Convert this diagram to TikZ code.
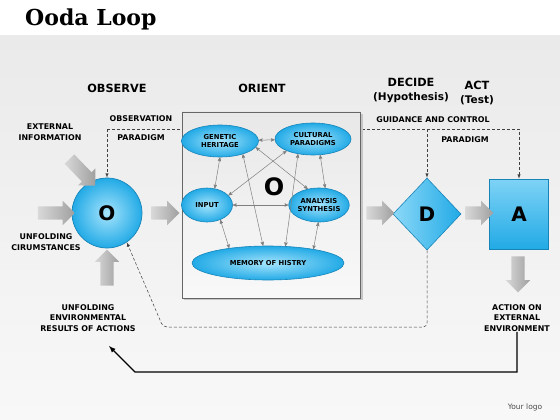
\documentclass[tikz,border=0pt]{standalone}
\usepackage{fontspec}
\setmainfont{DejaVu Sans}
\newfontfamily\titlefont{DejaVu Serif}
\usepackage{tikz}
\usetikzlibrary{arrows, shapes.geometric, shapes.arrows}
\definecolor{skyd}{HTML}{1784B8}
\definecolor{skyo}{HTML}{22AAE6}
\definecolor{skyi}{HTML}{A6E4FC}
\definecolor{bgtop}{HTML}{EAEAEA}
\definecolor{bgbot}{HTML}{F8F8F8}
\begin{document}
\begin{tikzpicture}[x=1pt, y=-1pt,
  lbl/.style={font=\bfseries\fontsize{7.9}{10.6}\selectfont, align=center, inner sep=0pt},
  head/.style={font=\bfseries\fontsize{11.3}{14}\selectfont, align=center, inner sep=0pt},
  bubble/.style={ellipse, draw=skyd, line width=0.6pt, inner color=skyi, outer color=skyo, inner sep=0pt, font=\bfseries\fontsize{6.8}{8.2}\selectfont, align=center},
  blk/.style={single arrow, draw=none, left color=gray!30, right color=gray!75, inner sep=0pt, text height=6.5pt, text depth=6.5pt, text width=0pt, single arrow head extend=5.5pt, single arrow tip angle=90},
  dsh/.style={densely dashed, line width=0.5pt, black!75, -latex},
  dbl/.style={gray, line width=0.5pt, <->, >=stealth'},
  big/.style={font=\bfseries\fontsize{20}{20}\selectfont, inner sep=0pt}]
\fill[white] (0,0) rectangle (560,36);
\shade[top color=bgtop, bottom color=bgbot] (0,36) rectangle (560,420);
\useasboundingbox (0,0) rectangle (560,420);

\node[font=\titlefont\bfseries\fontsize{22}{22}\selectfont, anchor=west, inner sep=0pt] (title) at (25,19) {Ooda Loop};

\node[circle, draw=skyd, line width=0.7pt, inner color=skyi, outer color=skyo, minimum size=70pt, big] (o) at (107,213) {O};
\node[diamond, draw=skyd, line width=0.6pt, left color=skyi!80!skyo, right color=skyo, minimum width=68pt, minimum height=72pt, inner sep=0pt, big] (d) at (427,214) {D};
\node[rectangle, draw=skyd, line width=0.6pt, top color=skyi!70!skyo, bottom color=skyo, minimum width=59pt, minimum height=70pt, big] (a) at (519,214) {A};

\coordinate (gt) at (107,129);
\coordinate (bl) at (163,327);
\draw[dsh] (gt) -- (o.north);
\draw[dsh] (gt) -| (a.north);
\draw[dsh] (d.north |- gt) -- (d.north);
\draw[dsh, rounded corners=4pt] (d.south) |- (bl) -- (o.-56);

\fill[gray!45] (184,114) rectangle (363,300);
\node[rectangle, draw=gray!80!black, line width=0.7pt, top color=gray!18, bottom color=gray!5, minimum width=178pt, minimum height=186pt] (box) at (271,205) {};

\node[bubble, minimum width=77pt, minimum height=32pt] (gh) at (220,141) {GENETIC\\HERITAGE};
\node[bubble, minimum width=76pt, minimum height=32pt] (cp) at (313,139) {CULTURAL\\PARADIGMS};
\node[bubble, minimum width=51pt, minimum height=34pt] (ip) at (207,205) {INPUT};
\node[bubble, minimum width=58pt, minimum height=34pt] (as) at (319,205) {ANALYSIS\\SYNTHESIS};
\node[bubble, minimum width=152pt, minimum height=34pt] (mh) at (268,263) {MEMORY OF HISTRY};
\node[big, font=\bfseries\fontsize{24}{24}\selectfont] (co) at (274,187) {O};

\draw[dbl] (gh) -- (cp);
\draw[dbl] (ip) -- (as);
\draw[dbl] (gh.270) -- (ip.65);
\draw[dbl] (cp.204) -- (ip.24);
\draw[dbl] (gh.350) -- (as.125);
\draw[dbl] (cp.294) -- (as.70);
\draw[dbl] (ip.312) -- (mh.159);
\draw[dbl] (gh.330) -- (mh.106);
\draw[dbl] (cp.225) -- (mh.44);
\draw[dbl] (as.268) -- (mh.17);

\node[blk, minimum height=37pt] (b1) at (53,213) {};
\node[blk, minimum height=37pt, rotate=-46] (b2) at (80,170) {};
\node[blk, minimum height=36pt, rotate=90] (b3) at (107,271) {};
\node[blk, minimum height=28pt] (b4) at (162,213) {};
\node[blk, minimum height=28pt] (b5) at (377,213) {};
\node[blk, minimum height=28pt] (b6) at (476,213) {};
\node[blk, minimum height=36pt, rotate=-90] (b7) at (518,271) {};

\node[head] (obs) at (117,88) {OBSERVE};
\node[head] (ori) at (262,88) {ORIENT};
\node[head] (dec) at (411,90) {DECIDE\\{\fontsize{10.5}{12}\selectfont(Hypothesis)}};
\node[head] (act) at (477,93) {ACT\\{\fontsize{10.5}{12}\selectfont(Test)}};

\node[lbl] (ei) at (50,132) {EXTERNAL\\INFORMATION};
\node[lbl] (ob) at (141,119) {OBSERVATION};
\node[lbl] (op) at (141,138) {PARADIGM};
\node[lbl] (uc) at (46,242) {UNFOLDING\\CIRUMSTANCES};
\node[lbl] (ue) at (88,318) {UNFOLDING\\ENVIRONMENTAL\\RESULTS OF ACTIONS};
\node[lbl] (gc) at (433,120) {GUIDANCE AND CONTROL};
\node[lbl] (pd) at (465,140) {PARADIGM};
\node[lbl] (ae) at (517,318) {ACTION ON\\EXTERNAL\\ENVIRONMENT};

\coordinate (fe) at (109,346);
\draw[line width=1.3pt, -latex] (ae.south) |- (135,372) -- (fe);

\node[font=\fontsize{7.5}{8}\selectfont, text=black!70] (logo) at (525,407) {Your logo};
\end{tikzpicture}
\end{document}
